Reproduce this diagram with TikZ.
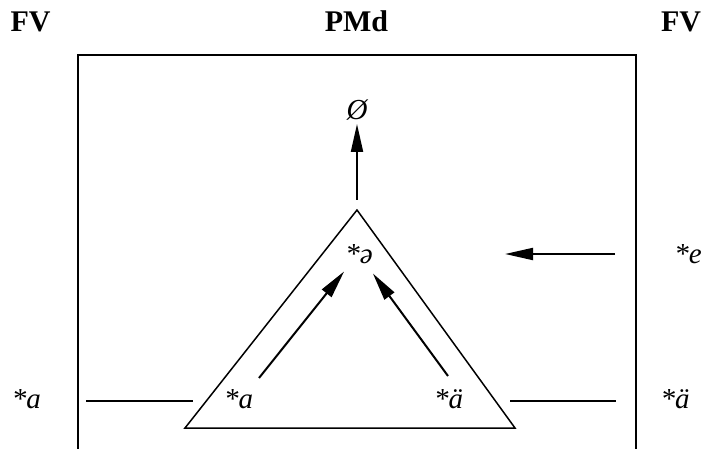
\documentclass[tikz,border=0pt]{standalone}
\usepackage{fontspec}
\setmainfont{Liberation Serif}
\usetikzlibrary{arrows.meta,positioning,calc}
\tikzset{
  hdr/.style={font=\fontsize{30}{32}\selectfont\bfseries, anchor=base, inner sep=0pt},
  lbl/.style={font=\fontsize{29}{32}\selectfont\itshape, anchor=base, inner sep=3pt},
  farr/.style={-{Triangle[length=28pt,width=12pt]}, line width=2pt},
  frame/.style={line width=2.6pt},
  tri/.style={line width=1.5pt, line join=miter},
  link/.style={line width=1.2pt},
}
\begin{document}
\begin{tikzpicture}[x=1pt, y=-1pt]
  \useasboundingbox (0,0) rectangle (704,449);
  % headings
  \node[hdr] (fvl) at (30.5,32) {FV};
  \node[hdr] (pmd) at (356.5,32) {PMd};
  \node[hdr] (fvr) at (681,32) {FV};
  % PMd frame, open at the bottom
  \draw[frame] (78,449) -- (78,55) -- (636,55) -- (636,449);
  % triangle
  \coordinate (apex) at (357,210);
  \coordinate (bl) at (185,428);
  \coordinate (br) at (515,428);
  \draw[tri] (apex) -- (bl) -- (br) -- cycle;
  % labels
  \node[lbl] (nul) at (357,120) {Ø};
  \node[lbl] (schwa) at (359,263) {*ə};
  \node[lbl] (ain) at (238.5,408) {*a};
  \node[lbl] (uin) at (448.5,408) {*ä};
  \node[lbl] (aout) at (26.5,408) {*a};
  \node[lbl] (uout) at (675,408) {*ä};
  \node[lbl] (eout) at (688,263) {*e};
  % arrows
  \coordinate (tailL) at (259,378);
  \coordinate (tailR) at (448,376);
  \coordinate (tailE) at (615,254);
  \coordinate (tipE) at (505,254);
  \draw[farr] ([yshift=10pt]apex) -- (nul.south);
  \draw[farr] (tailL) -- ([shift={(2pt,-5pt)}]schwa.south west);
  \draw[farr] (tailR) -- ([shift={(-3pt,-7pt)}]schwa.south east);
  \draw[farr] (tailE) -- (tipE);
  % links to FV
  \coordinate (la) at (86,401);
  \coordinate (lb) at (193,401);
  \coordinate (ra) at (510,401);
  \coordinate (rb) at (616,401);
  \draw[link] (la) -- (lb);
  \draw[link] (ra) -- (rb);
\end{tikzpicture}
\end{document}
